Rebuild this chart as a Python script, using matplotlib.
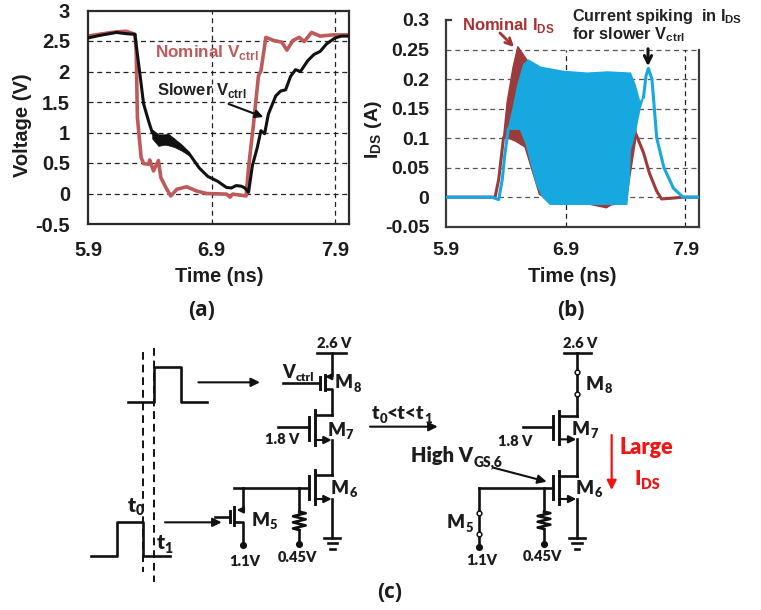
import numpy as np
import matplotlib
matplotlib.use("Agg")
import matplotlib.pyplot as plt

plt.rcParams['font.family'] = ['Liberation Sans', 'DejaVu Sans']
plt.rcParams['font.weight'] = 'bold'
plt.rcParams['mathtext.fontset'] = 'custom'
plt.rcParams['mathtext.bf'] = 'Liberation Sans:bold'
plt.rcParams['mathtext.rm'] = 'Liberation Sans:bold'

W, H = 761, 610
INK = '#1c1c1c'
RED_V = '#bf5a5a'
BROWN = '#9c3b3b'
BLUE = '#17a8e0'
CIRC = 'Lato'
CIRC_WEIGHT = 800

# (a) voltage traces
nom_v_t = [5.90, 5.99, 6.13, 6.21, 6.28, 6.29, 6.30, 6.33, 6.35, 6.39, 6.40, 6.43, 6.47, 6.49, 6.53, 6.57, 6.62, 6.70,
           6.78, 6.86, 7.02, 7.05, 7.07, 7.18, 7.20, 7.24, 7.28, 7.30, 7.34, 7.40, 7.47, 7.51, 7.56, 7.61, 7.65, 7.71,
           7.78, 7.88, 8.01]
nom_v = [2.58, 2.61, 2.65, 2.66, 2.61, 2.34, 1.25, 0.59, 0.49, 0.48, 0.55, 0.37, 0.54, 0.26, 0.10, -0.04, 0.07, 0.11,
         0.04, 0.0, -0.01, -0.06, -0.01, -0.04, 0.43, 1.14, 1.93, 2.01, 2.56, 2.51, 2.48, 2.35, 2.51, 2.56, 2.49, 2.64,
         2.58, 2.60, 2.60]
slow_v_t = [5.90, 5.99, 6.13, 6.21, 6.28, 6.30, 6.33, 6.35, 6.39, 6.42, 6.47, 6.52, 6.60, 6.66, 6.72, 6.80, 6.87, 6.95,
            7.02, 7.06, 7.10, 7.14, 7.17, 7.20, 7.23, 7.27, 7.30, 7.33, 7.36, 7.39, 7.42, 7.46, 7.50, 7.54, 7.58, 7.62,
            7.68, 7.73, 7.78, 7.83, 7.90, 7.95, 8.01]
slow_v = [2.55, 2.59, 2.64, 2.62, 2.61, 2.28, 1.80, 1.47, 1.19, 1.0, 0.88, 0.88, 0.83, 0.75, 0.65, 0.42, 0.28, 0.20,
          0.10, 0.09, 0.13, 0.12, 0.09, 0.02, 0.45, 0.75, 1.03, 0.98, 1.30, 1.45, 1.60, 1.68, 1.70, 1.92, 2.03, 2.00,
          2.18, 2.28, 2.33, 2.45, 2.55, 2.58, 2.58]
band_t = [6.42, 6.47, 6.52, 6.55, 6.60, 6.66, 6.72]
band_hi = [1.05, 0.97, 0.97, 0.98, 0.90, 0.80, 0.68]
band_lo = [0.90, 0.78, 0.80, 0.79, 0.76, 0.70, 0.62]

# (b) current envelopes
nom_rise_t = [5.90, 6.31, 6.34, 6.38]
nom_rise = [0, 0, 0.03, 0.10]
nom_hi_t = [6.38, 6.41, 6.46, 6.50, 6.55, 6.60, 6.70, 6.88, 7.08, 7.44, 7.49]
nom_i_hi = [0.10, 0.16, 0.22, 0.255, 0.24, 0.225, 0.217, 0.212, 0.208, 0.205, 0.105]
nom_lo_t = [6.38, 6.42, 6.48, 6.56, 6.62, 6.68, 6.80, 7.10, 7.24, 7.28, 7.40, 7.49]
nom_i_lo = [0.10, 0.10, 0.095, 0.085, 0.045, 0.005, -0.010, -0.012, -0.018, -0.013, -0.01, 0.105]
nom_tail_t = [7.49, 7.55, 7.60, 7.66, 7.70, 7.77, 7.88, 8.01]
nom_tail = [0.105, 0.075, 0.04, 0.01, -0.003, -0.002, 0, 0]
blue_hi_t = [6.42, 6.46, 6.50, 6.55, 6.59, 6.69, 6.88, 7.08, 7.25, 7.44, 7.48, 7.52, 7.55]
blue_hi = [0.115, 0.15, 0.19, 0.225, 0.232, 0.22, 0.213, 0.21, 0.212, 0.21, 0.19, 0.16, 0.17]
blue_lo_t = [6.42, 6.52, 6.57, 6.62, 6.66, 6.71, 6.77, 7.41, 7.43, 7.44, 7.48, 7.52, 7.55]
blue_lo = [0.115, 0.115, 0.09, 0.05, 0.02, 0.0, -0.012, -0.012, 0.03, 0.08, 0.11, 0.15, 0.17]
blue_rise_t = [5.90, 6.28, 6.34, 6.37, 6.39, 6.42]
blue_rise = [0, 0, -0.004, 0.03, 0.07, 0.115]
blue_tail_t = [7.55, 7.57, 7.59, 7.62, 7.66, 7.72, 7.80, 7.88, 8.01]
blue_tail = [0.17, 0.205, 0.218, 0.20, 0.10, 0.05, 0.015, 0, 0]

a_xticks = [5.9, 6.9, 7.9]
a_yticks = [-0.5, 0, 0.5, 1, 1.5, 2, 2.5, 3]
a_ylabels = ['-0.5', '0', '0.5', '1', '1.5', '2', '2.5', '3']
b_yticks = [-0.05, 0, 0.05, 0.1, 0.15, 0.2, 0.25, 0.3]
b_ylabels = ['-0.05', '0', '0.05', '0.1', '0.15', '0.2', '0.25', '0.3']


def axes_px(fig, l, t, r, b):
    return fig.add_axes([l / W, 1 - b / H, (r - l) / W, (b - t) / H])


fig = plt.figure(figsize=(W / 100, H / 100), dpi=100)

# ---------- chart a
ax = axes_px(fig, 88, 10.5, 349, 224)
ax.set_xlim(5.9, 8.013)
ax.set_ylim(-0.5, 3)
ax.hlines(a_yticks[1:-1], 5.9, 8.013, colors='#222222', linestyles=(0, (4, 3)), linewidth=0.9, zorder=1)
ax.vlines(a_xticks[1:], -0.5, 3, colors='#222222', linestyles=(0, (4, 3)), linewidth=0.9, zorder=1)
ax.plot(nom_v_t, nom_v, color=RED_V, linewidth=2.6, zorder=2)
ax.fill_between(band_t, band_lo, band_hi, color='#111111', linewidth=0.5, zorder=3)
ax.plot(slow_v_t, slow_v, color='#111111', linewidth=2.2, zorder=3)
ax.set_xticks(a_xticks)
ax.set_xticklabels(['5.9', '6.9', '7.9'], fontsize=14.5, color=INK)
ax.set_yticks(a_yticks)
ax.set_yticklabels(a_ylabels, fontsize=14.5, color=INK)
ax.tick_params(length=0, pad=13)
ax.tick_params(axis='x', pad=12)
for s in ax.spines.values():
    s.set_linewidth(1.6)
    s.set_color('#2a2a2a')

# ---------- chart b
bx = axes_px(fig, 446, 20, 699, 226.7)
bx.set_xlim(5.9, 8.013)
bx.set_ylim(-0.05, 0.3)
bx.hlines(b_yticks[1:-1], 5.9, 8.013, colors='#555555', linestyles=(0, (4, 3)), linewidth=0.9, zorder=1)
bx.vlines(a_xticks[1:], -0.05, 0.25, colors='#222222', linestyles=(0, (4, 3)), linewidth=0.9, zorder=1)
bx.fill(nom_hi_t + nom_lo_t[::-1], nom_i_hi + nom_i_lo[::-1], color=BROWN, linewidth=1.0, zorder=2)
bx.plot(nom_rise_t, nom_rise, color=BROWN, linewidth=2.2, zorder=2)
bx.plot(nom_tail_t, nom_tail, color=BROWN, linewidth=2.2, zorder=2)
bx.fill(blue_hi_t + blue_lo_t[::-1], blue_hi + blue_lo[::-1], color=BLUE, linewidth=1.0, zorder=3)
bx.plot(blue_rise_t, blue_rise, color=BLUE, linewidth=2.2, zorder=4)
bx.plot(blue_tail_t, blue_tail, color=BLUE, linewidth=2.2, zorder=4)
bx.set_xticks(a_xticks)
bx.set_xticklabels(['5.9', '6.9', '7.9'], fontsize=14, color=INK)
bx.set_yticks(b_yticks)
bx.set_yticklabels(b_ylabels, fontsize=14, color=INK)
bx.tick_params(length=0, pad=12)
bx.tick_params(axis='x', pad=11)
bx.spines['top'].set_visible(False)
bx.spines['right'].set_bounds(-0.05, 0.25)
for s in bx.spines.values():
    s.set_linewidth(1.6)
    s.set_color('#3a3a3a')
bx.plot([5.9, 5.945], [0.3, 0.3], color='#3a3a3a', linewidth=1.6, clip_on=False, zorder=4)

# ---------- overlay in pixel coordinates: labels and schematic
ov = fig.add_axes([0, 0, 1, 1], zorder=5)
ov.set_xlim(0, W)
ov.set_ylim(H, 0)
ov.axis('off')
ov.patch.set_alpha(0)
rend = fig.canvas.get_renderer()


def sub_text(x, y, main, sub, size, color=INK, family=CIRC, ha='left'):
    # main text plus a smaller subscript placed right after it
    t = ov.text(x, y, main, fontsize=size, color=color, family=family, fontweight=CIRC_WEIGHT, va='baseline', ha='left')
    wm = t.get_window_extent(rend).width
    t2 = ov.text(x + wm + 0.5, y + size * 0.24, sub, fontsize=size * 0.68, color=color, family=family, fontweight=CIRC_WEIGHT, va='baseline')
    if ha == 'center':
        ws = t2.get_window_extent(rend).width
        t.set_x(x - (wm + ws) / 2)
        t2.set_x(x - (wm + ws) / 2 + wm + 0.5)


ov.text(219, 277, 'Time (ns)', fontsize=14.3, color=INK, ha='center', va='center')
ov.text(572, 277, 'Time (ns)', fontsize=14.3, color=INK, ha='center', va='center')
ov.text(23, 125, 'Voltage (V)', fontsize=14.5, color=INK, ha='center', va='center', rotation=90)
ov.text(373, 130, r'I$_{\mathbf{DS}}$ (A)', fontsize=14, color=INK, ha='center', va='center', rotation=90)
ov.text(155, 56.5, r'Nominal V$_{\mathbf{ctrl}}$', fontsize=12.3, color=RED_V, va='baseline')
ov.text(157, 95.5, r'Slower V$_{\mathbf{ctrl}}$', fontsize=12, color='#222222', va='baseline')
ov.text(461.5, 30, r'Nominal I$_{\mathbf{DS}}$', fontsize=12, color='#a83232', va='baseline')
ov.text(572.5, 20.5, r'Current spiking  in I$_{\mathbf{DS}}$', fontsize=11.7, color='#222222', va='baseline')
ov.text(572.5, 39, r'for slower V$_{\mathbf{ctrl}}$', fontsize=11.8, color='#222222', va='baseline')
ov.annotate('', xy=(266, 118), xytext=(226, 103), arrowprops=dict(arrowstyle='-|>', color='#111111', lw=1.5, mutation_scale=12))
ov.annotate('', xy=(516, 49), xytext=(498, 31), arrowprops=dict(arrowstyle='->', color='#a03535', lw=2.0, mutation_scale=12))
ov.annotate('', xy=(648, 69), xytext=(648, 46), arrowprops=dict(arrowstyle='->', color='#111111', lw=2.2, mutation_scale=13))
for x, lab in [(202, '(a)'), (571, '(b)'), (390, '(c)')]:
    ov.text(x, 310 if lab != '(c)' else 593, lab, fontsize=15, family='Open Sans', color=INK, ha='center', va='center')


class Zoomed:
    def __init__(self, ox, oy):
        self.ox, self.oy = ox, oy

    def p(self, x, y):
        return self.ox + x / 3, self.oy + y / 3

    def line(self, pts, lw=1.9, color='#111111', **kw):
        xy = [self.p(*q) for q in pts]
        ov.plot([q[0] for q in xy], [q[1] for q in xy], color=color, linewidth=lw, solid_capstyle='projecting', **kw)

    def arrow(self, a, b, lw=1.5, color='#111111', ms=13):
        ov.annotate('', xy=self.p(*b), xytext=self.p(*a), arrowprops=dict(arrowstyle='-|>', color=color, lw=lw, mutation_scale=ms, shrinkA=0, shrinkB=0))

    def dot(self, x, y, open_=False):
        px, py = self.p(x, y)
        ov.plot([px], [py], 'o', ms=3.4 if open_ else 4, mfc='white' if open_ else '#111111', mec='#111111', mew=1.1, zorder=6)

    def ground(self, x, y):
        self.line([(x - 24, y), (x + 24, y)])
        self.line([(x - 14, y + 17), (x + 15, y + 17)])
        self.line([(x - 6, y + 34), (x + 7, y + 34)])

    def resistor(self, x, y0, y1):
        n = 6
        ys = np.linspace(y0, y1, n + 1)
        pts = [(x, y0)]
        for i in range(n):
            pts.append((x + (19 if i % 2 == 0 else -19), (ys[i] + ys[i + 1]) / 2))
        pts.append((x, y1))
        self.line(pts)

    def nmos(self, xd, yd, ys, xc, xg, yg_top, yg_bot, lead_x, lead_y):
        self.line([(xc, yd - 14), (xc, ys + 15)], lw=2.1)
        self.line([(xg, yg_top), (xg, yg_bot)], lw=2.1)
        self.line([(lead_x, lead_y), (xg, lead_y)])
        self.line([(xc, yd), (xd, yd)])
        self.arrow((xc, ys), (xd - 2, ys), ms=11)

    def text(self, x, y, s, size, ha='left', color=INK):
        px, py = self.p(x, y)
        ov.text(px, py, s, fontsize=size, family=CIRC, fontweight=CIRC_WEIGHT, color=color, ha=ha, va='baseline')

    def sub(self, x, y, a, b, size, ha='left', color=INK):
        px, py = self.p(x, y)
        sub_text(px, py, a, b, size, color=color, ha=ha)


# left schematic
L = Zoomed(80, 325)
L.line([(190, 80), (190, 740)], lw=1.4, linestyle=(0, (4, 2.5)))
L.line([(222, 70), (222, 770)], lw=1.4, linestyle=(0, (4, 2.5)))
L.line([(143, 230), (222, 230), (222, 125), (302, 125), (302, 230), (382, 230)])
L.line([(32, 692), (112, 692), (112, 590), (190, 590), (190, 692), (270, 692)])
L.arrow((355, 172), (540, 172))
L.arrow((255, 592), (425, 592))
L.sub(142, 560, 't', '0', 15)
L.sub(229, 672, 't', '1', 15)

L.line([(712, 85), (798, 85)])
L.text(712, 70, '2.6 V', 10.5)
L.line([(757, 85), (757, 150)])
L.arrow((757, 155), (735, 155), ms=9)
L.line([(735, 150), (735, 195)], lw=2.1)
L.line([(720, 155), (720, 192)], lw=2.1)
L.line([(610, 173), (720, 173)])
L.line([(735, 192), (757, 192), (757, 270)])
L.sub(607, 160, 'V', 'ctrl', 13)
L.sub(765, 190, 'M', '8', 13.5)

L.nmos(757, 270, 345, 705, 688, 275, 345, 593, 307)
L.line([(757, 345), (757, 450)])
L.text(555, 358, '1.8 V', 10.5)
L.sub(742, 332, 'M', '7', 13.5)

L.nmos(757, 450, 522, 705, 688, 453, 522, 463, 488)
L.line([(757, 522), (757, 638)])
L.ground(757, 638)
L.sub(752, 506, 'M', '6', 13.5)

L.line([(658, 488), (658, 560)])
L.resistor(658, 560, 615)
L.line([(658, 615), (658, 655)])
L.dot(658, 657)
L.text(592, 710, '0.45V', 10.5)

L.line([(488, 488), (488, 545)])
L.arrow((488, 555), (470, 555), ms=9)
L.line([(462, 545), (462, 600)], lw=2.1)
L.line([(450, 558), (450, 592)], lw=2.1)
L.line([(405, 575), (450, 575)])
L.line([(462, 592), (488, 592), (488, 660)])
L.dot(488, 660)
L.text(448, 723, '1.1V', 10.5)
L.sub(514, 603, 'M', '5', 13.5)

# right schematic
R = Zoomed(370, 325)
R.arrow((0, 305), (203, 305))
R.sub(5, 283, 't', '0', 14)
R.sub(50, 283, '<t<t', '1', 14)

R.line([(582, 83), (663, 83)])
R.text(580, 70, '2.6 V', 10.5)
R.line([(621, 83), (621, 272)])
R.dot(621, 142, open_=True)
R.dot(621, 207, open_=True)
R.sub(648, 195, 'M', '8', 13.5)

R.nmos(621, 272, 343, 567, 550, 272, 342, 458, 307)
R.line([(621, 343), (621, 452)])
R.text(385, 362, '1.8 V', 10.5)
R.sub(606, 330, 'M', '7', 13.5)

R.nmos(621, 452, 522, 567, 550, 453, 522, 328, 488)
R.line([(621, 522), (621, 638)])
R.ground(621, 638)
R.sub(617, 506, 'M', '6', 13.5)

R.line([(328, 488), (328, 665)])
R.dot(328, 563, open_=True)
R.dot(328, 626, open_=True)
R.dot(328, 667)
R.sub(230, 610, 'M', '5', 13.5)
R.text(288, 720, '1.1V', 10.5)

R.line([(522, 488), (522, 560)])
R.resistor(522, 560, 612)
R.line([(522, 612), (522, 655)])
R.dot(522, 657)
R.text(458, 708, '0.45V', 10.5)

R.sub(122, 412, 'High V', 'GS,6', 14.5)
R.arrow((370, 428), (530, 470))

RED = '#f01414'
R.arrow((725, 330), (725, 495), color=RED, lw=1.6, ms=14)
R.text(830, 388, 'Large', 15.5, ha='center', color=RED)
R.sub(830, 480, 'I', 'DS', 15, ha='center', color=RED)

fig.savefig('out.png', dpi=100)
